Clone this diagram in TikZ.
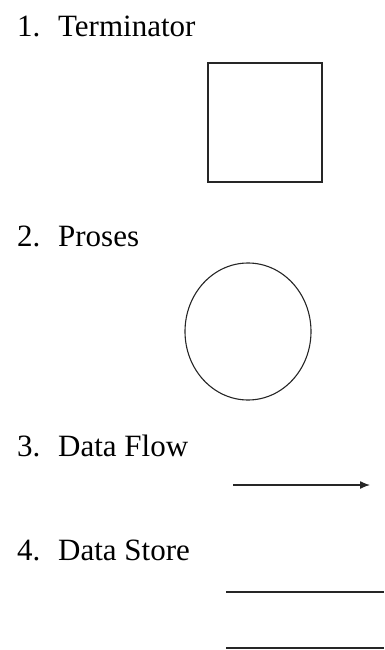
\documentclass[tikz,border=0pt]{standalone}
\usepackage{fontspec}
\setmainfont{Liberation Serif}
\usetikzlibrary{shapes.geometric,arrows.meta}
\begin{document}
\begin{tikzpicture}[x=1pt,y=-1pt,
  label/.style={anchor=base west,inner sep=0pt,font=\fontsize{31}{34}\selectfont,text=black},
  shapeline/.style={draw=black!85,line width=1.4pt},
  storeline/.style={draw=black!85,line width=1.3pt}]
\useasboundingbox (0,0) rectangle (384,650);
\node[label] (t1) at (17,37) {\makebox[41pt][l]{1.}Terminator};
\node[shapeline,minimum width=114pt,minimum height=119pt,inner sep=0pt] (term) at (265,122.5) {};
\node[label] (t2) at (17,246) {\makebox[41pt][l]{2.}Proses};
\node[shapeline,ellipse,line width=1.1pt,minimum width=126pt,minimum height=137pt,inner sep=0pt] (proc) at (248,331.5) {};
\node[label] (t3) at (17,456) {\makebox[41pt][l]{3.}Data Flow};
\coordinate (fa) at (233,485);
\coordinate (fb) at (370,485);
\draw[storeline,-{Latex[length=10pt,width=8pt]}] (fa) -- (fb);
\node[label] (t4) at (17,560) {\makebox[41pt][l]{4.}Data Store};
\coordinate (s1a) at (226,592);
\coordinate (s1b) at (384,592);
\coordinate (s2a) at (226,648);
\coordinate (s2b) at (384,648);
\draw[storeline] (s1a) -- (s1b);
\draw[storeline] (s2a) -- (s2b);
\end{tikzpicture}
\end{document}
